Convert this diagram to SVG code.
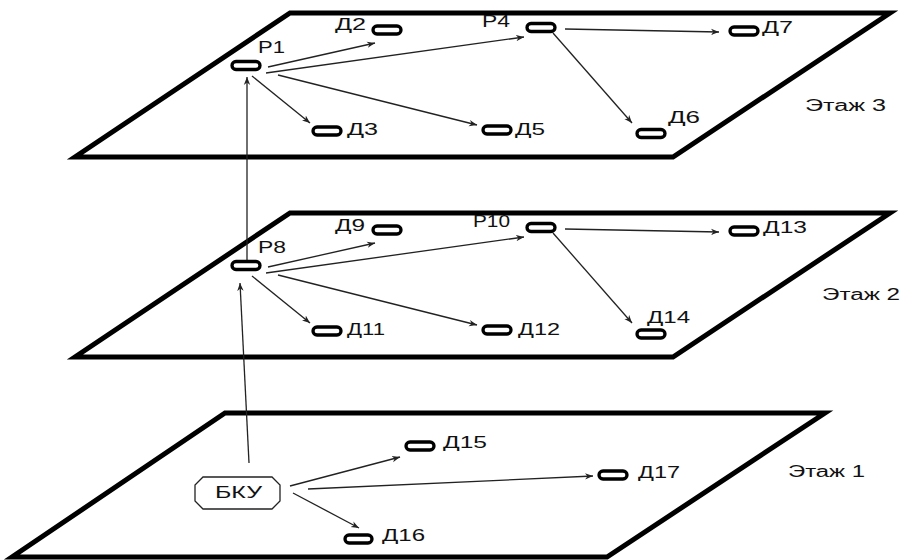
<svg xmlns="http://www.w3.org/2000/svg" width="903" height="560" viewBox="0 0 903 560">
<style>
.plane{fill:#fff;stroke:#000;stroke-width:5;stroke-linejoin:miter}
.dev{fill:#fff;stroke:#000;stroke-width:3.3}
.t{font-family:"Liberation Sans",Arial,sans-serif;font-size:16px;fill:#111}
.c{stroke:#222;stroke-width:1.3;fill:none;marker-end:url(#ah)}
</style>
<defs>
<marker id="ah" viewBox="0 0 10 10" refX="10" refY="5" markerWidth="8" markerHeight="8" markerUnits="userSpaceOnUse" orient="auto">
<path d="M0,1 L10,5 L0,9 L3,5 Z" fill="#222"/>
</marker>
</defs>
<g id="floor1"><polygon class="plane" points="225,413 825,413 607,557 12,557"/><text class="t" x="788" y="477" textLength="77" lengthAdjust="spacingAndGlyphs">Этаж 1</text></g>
<g id="floor2"><polygon class="plane" points="290,213 890,213 673,357 75,357"/><text class="t" x="822" y="300" textLength="78" lengthAdjust="spacingAndGlyphs">Этаж 2</text></g>
<g id="floor3"><polygon class="plane" points="290,13 890,13 673,157 75,157"/><text class="t" x="805" y="111" textLength="81" lengthAdjust="spacingAndGlyphs">Этаж 3</text></g>

<g id="connectors">
<line class="c" x1="268" y1="67" x2="375" y2="43"/>
<line class="c" x1="266" y1="73" x2="524" y2="37"/>
<line class="c" x1="278" y1="75" x2="477" y2="125"/>
<line class="c" x1="252" y1="76" x2="310" y2="123"/>
<line class="c" x1="565" y1="29" x2="719" y2="32"/>
<line class="c" x1="553" y1="33" x2="632" y2="123"/>
<line class="c" x1="268" y1="267" x2="375" y2="243"/>
<line class="c" x1="266" y1="273" x2="524" y2="237"/>
<line class="c" x1="278" y1="275" x2="477" y2="325"/>
<line class="c" x1="252" y1="276" x2="310" y2="323"/>
<line class="c" x1="565" y1="229" x2="719" y2="232"/>
<line class="c" x1="553" y1="233" x2="632" y2="323"/>
<line class="c" x1="247" y1="261" x2="247" y2="77"/>
<line class="c" x1="249" y1="463" x2="240" y2="283"/>
<line class="c" x1="290" y1="486" x2="400" y2="457"/>
<line class="c" x1="308" y1="489" x2="593" y2="476"/>
<line class="c" x1="293" y1="493" x2="359" y2="528"/>
</g>

<g id="P1"><rect class="dev" x="232" y="61.5" width="28" height="8" rx="4"/><text class="t" x="258" y="53" textLength="27" lengthAdjust="spacingAndGlyphs">Р1</text></g>
<g id="D2"><rect class="dev" x="373" y="26" width="28" height="8" rx="4"/><text class="t" x="335" y="30" textLength="31" lengthAdjust="spacingAndGlyphs">Д2</text></g>
<g id="D3"><rect class="dev" x="313" y="127" width="28" height="8" rx="4"/><text class="t" x="347" y="135" textLength="31" lengthAdjust="spacingAndGlyphs">Д3</text></g>
<g id="D5"><rect class="dev" x="483" y="126" width="28" height="8" rx="4"/><text class="t" x="515" y="135" textLength="30" lengthAdjust="spacingAndGlyphs">Д5</text></g>
<g id="P4"><rect class="dev" x="527" y="23.5" width="28" height="8" rx="4"/><text class="t" x="482" y="27" textLength="28" lengthAdjust="spacingAndGlyphs">Р4</text></g>
<g id="D7"><rect class="dev" x="730" y="27" width="28" height="8" rx="4"/><text class="t" x="762" y="33" textLength="31" lengthAdjust="spacingAndGlyphs">Д7</text></g>
<g id="D6"><rect class="dev" x="637" y="129.5" width="28" height="8" rx="4"/><text class="t" x="668" y="123" textLength="32" lengthAdjust="spacingAndGlyphs">Д6</text></g>

<g id="P8"><rect class="dev" x="232" y="261.5" width="28" height="8" rx="4"/><text class="t" x="258" y="253" textLength="28" lengthAdjust="spacingAndGlyphs">Р8</text></g>
<g id="D9"><rect class="dev" x="373" y="226" width="28" height="8" rx="4"/><text class="t" x="335" y="231" textLength="30" lengthAdjust="spacingAndGlyphs">Д9</text></g>
<g id="D11"><rect class="dev" x="313" y="327" width="28" height="8" rx="4"/><text class="t" x="347" y="335" textLength="38" lengthAdjust="spacingAndGlyphs">Д11</text></g>
<g id="D12"><rect class="dev" x="483" y="326" width="28" height="8" rx="4"/><text class="t" x="518" y="335" textLength="42" lengthAdjust="spacingAndGlyphs">Д12</text></g>
<g id="P10"><rect class="dev" x="527" y="223.5" width="28" height="8" rx="4"/><text class="t" x="473" y="227" textLength="37" lengthAdjust="spacingAndGlyphs">Р10</text></g>
<g id="D13"><rect class="dev" x="730" y="227" width="28" height="8" rx="4"/><text class="t" x="763" y="233" textLength="44" lengthAdjust="spacingAndGlyphs">Д13</text></g>
<g id="D14"><rect class="dev" x="637" y="330" width="28" height="8" rx="4"/><text class="t" x="647" y="323" textLength="43" lengthAdjust="spacingAndGlyphs">Д14</text></g>

<g id="BKU"><polygon points="203,477 272,477 280,485 280,501 272,509 203,509 195,501 195,485" fill="#fff" stroke="#222" stroke-width="1.3"/><text class="t" x="215" y="498" textLength="47" lengthAdjust="spacingAndGlyphs">БКУ</text></g>
<g id="D15"><rect class="dev" x="406" y="442" width="28" height="8" rx="4"/><text class="t" x="443" y="448" textLength="44" lengthAdjust="spacingAndGlyphs">Д15</text></g>
<g id="D17"><rect class="dev" x="599" y="471" width="28" height="8" rx="4"/><text class="t" x="638" y="478" textLength="42" lengthAdjust="spacingAndGlyphs">Д17</text></g>
<g id="D16"><rect class="dev" x="345" y="535" width="27" height="8" rx="4"/><text class="t" x="382" y="541" textLength="43" lengthAdjust="spacingAndGlyphs">Д16</text></g>
</svg>
